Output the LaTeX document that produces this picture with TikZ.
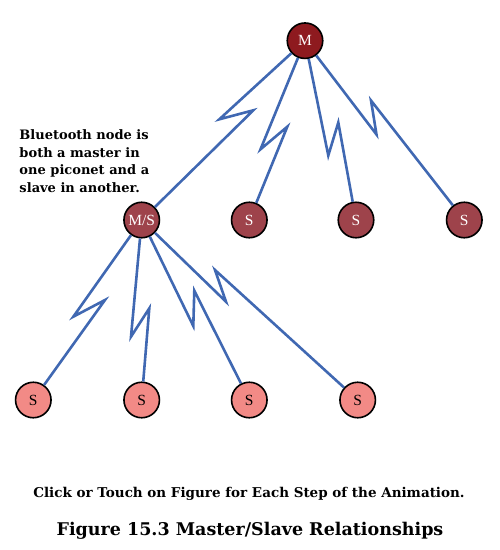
\documentclass[tikz,border=0pt]{standalone}
\usepackage{fontspec}
\setmainfont{Liberation Serif}
\newfontfamily\notefont{DejaVu Serif}
\definecolor{linkblue}{HTML}{4068B2}
\definecolor{masterred}{HTML}{8E1A1F}
\definecolor{midred}{HTML}{9E434B}
\definecolor{lightred}{HTML}{F28A86}
\tikzset{
  dev/.style={circle,draw=black,line width=1.6pt,minimum size=35.5pt,inner sep=0pt,
    font=\fontsize{15.5}{17}\selectfont},
  master/.style={dev,fill=masterred,text=white},
  midslave/.style={dev,fill=midred,text=white},
  lowslave/.style={dev,fill=lightred,text=black},
  link/.style={draw=linkblue,line width=2.6pt,line join=miter},
}
\begin{document}
\begin{tikzpicture}[x=1pt,y=-1pt]
\useasboundingbox (0,0) rectangle (500,550);
% nodes
\node[master]   (m)  at (305,40.7) {M};
\node[midslave] (ms) at (141.7,220) {M/S};
\node[midslave] (s1) at (249.3,220) {S};
\node[midslave] (s2) at (356,220) {S};
\node[midslave] (s3) at (464.3,220) {S};
\node[lowslave] (b1) at (33.3,400) {S};
\node[lowslave] (b2) at (141.7,400) {S};
\node[lowslave] (b3) at (249.3,400) {S};
\node[lowslave] (b4) at (357.7,400) {S};
% zigzag points
\coordinate (a1) at (219.3,119.3); \coordinate (a2) at (253.3,110.3);
\coordinate (c1) at (260.5,149.3); \coordinate (c2) at (287.3,126.7);
\coordinate (d1) at (328.3,155.5); \coordinate (d2) at (338.3,122.5);
\coordinate (e1) at (376.5,134.5); \coordinate (e2) at (371,100.5);
\coordinate (f1) at (73.3,316.7);  \coordinate (f2) at (105,300);
\coordinate (g1) at (131,336.7);   \coordinate (g2) at (149.3,308.3);
\coordinate (h1) at (193.3,326);   \coordinate (h2) at (194.3,290.7);
\coordinate (k1) at (226,301.7);   \coordinate (k2) at (215,270);
% connectors
\draw[link] (m) -- (a1) -- (a2) -- (ms);
\draw[link] (m) -- (c1) -- (c2) -- (s1);
\draw[link] (m) -- (d1) -- (d2) -- (s2);
\draw[link] (m) -- (e1) -- (e2) -- (s3);
\draw[link] (ms) -- (f1) -- (f2) -- (b1);
\draw[link] (ms) -- (g1) -- (g2) -- (b2);
\draw[link] (ms) -- (h1) -- (h2) -- (b3);
\draw[link] (ms) -- (k1) -- (k2) -- (b4);
% texts
\node[anchor=north west,inner sep=0pt,align=left,
  font=\notefont\fontsize{13}{17.6}\selectfont\bfseries] (note) at (19.3,129.5)
  {Bluetooth node is\\both a master in\\one piconet and a\\slave in another.};
\node[anchor=base,inner sep=0pt,font=\notefont\fontsize{13.5}{16}\selectfont\bfseries] (hint) at (249,497.7)
  {Click or Touch on Figure for Each Step of the Animation.};
\node[anchor=base,inner sep=0pt,font=\notefont\fontsize{17.5}{20}\selectfont\bfseries] (caption) at (250,535.7)
  {Figure 15.3 Master/Slave Relationships};
\end{tikzpicture}
\end{document}
